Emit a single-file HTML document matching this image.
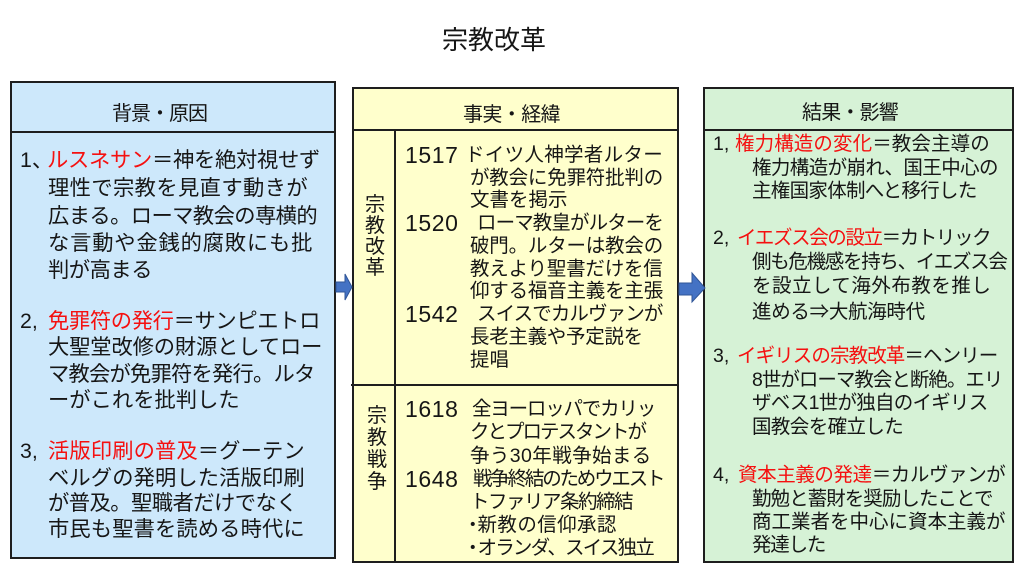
<!DOCTYPE html>
<html lang="ja">
<head>
<meta charset="utf-8">
<style>
  html,body{margin:0;padding:0;background:#fff;}
  #wrap{position:relative;width:1024px;height:571px;overflow:hidden;background:#fff;
    font-family:"Liberation Sans","Noto Sans CJK JP",sans-serif;color:#161616;}
  .t{position:absolute;white-space:nowrap;}
  .L{font-size:21.3px;line-height:26px;}
  .M{font-size:19.5px;line-height:23px;}
  .R{font-size:19.5px;line-height:23px;}
  .r{color:#f51010;}
  .y{font-size:23px;letter-spacing:0.6px;}
  .h{font-size:20px;line-height:26px;}
  .v{position:absolute;font-size:20px;text-align:center;width:22px;}
  .v span{display:block;}
</style>
</head>
<body>
<div id="wrap">
<svg width="1024" height="571" style="position:absolute;left:0;top:0">
  <rect x="11" y="82" width="324" height="476" fill="#cde8fb" stroke="#1e1e1e" stroke-width="2"/>
  <line x1="11" y1="132" x2="335" y2="132" stroke="#1e1e1e" stroke-width="2"/>
  <rect x="353" y="88" width="325" height="474" fill="#ffffcc" stroke="#1e1e1e" stroke-width="2"/>
  <line x1="353" y1="130" x2="678" y2="130" stroke="#1e1e1e" stroke-width="2"/>
  <line x1="395" y1="130" x2="395" y2="562" stroke="#1e1e1e" stroke-width="2"/>
  <line x1="351" y1="385" x2="678" y2="385" stroke="#1e1e1e" stroke-width="2"/>
  <rect x="704" y="88" width="309" height="474" fill="#d6f2d6" stroke="#1e1e1e" stroke-width="2"/>
  <line x1="704" y1="130" x2="1013" y2="130" stroke="#1e1e1e" stroke-width="2"/>
  <polygon points="336,282 345,282 345,274 352,287 345,300 345,292 336,292" fill="#4472c4" stroke="#2f5597" stroke-width="1"/>
  <polygon points="679,283 692,283 692,273 705,288 692,302 692,295 679,295" fill="#4472c4" stroke="#2f5597" stroke-width="1"/>
</svg>

<!-- title -->
<div class="t" style="left:442px;top:25px;font-size:26px;line-height:30px;">宗教改革</div>

<!-- headers -->
<div class="t h" style="left:112px;top:101px;letter-spacing:-1px;">背景・原因</div>
<div class="t h" style="left:463px;top:102px;letter-spacing:-0.6px;">事実・経緯</div>
<div class="t h" style="left:802px;top:100px;letter-spacing:-0.8px;">結果・影響</div>

<!-- LEFT -->
<div class="t L" style="left:20px;top:147px;">1、</div>
<div class="t L" style="left:47px;top:147px;letter-spacing:-0.3px;"><span class="r">ルスネサン</span>＝神を絶対視せず</div>
<div class="t L" style="left:48px;top:175px;letter-spacing:0.37px;">理性で宗教を見直す動きが</div>
<div class="t L" style="left:48px;top:203px;letter-spacing:-0.6px;">広まる。ローマ教会の専横的</div>
<div class="t L" style="left:48px;top:230px;letter-spacing:0.8px;">な言動や金銭的腐敗にも批</div>
<div class="t L" style="left:48px;top:257px;letter-spacing:-0.5px;">判が高まる</div>

<div class="t L" style="left:20px;top:308px;">2,</div>
<div class="t L" style="left:48px;top:308px;letter-spacing:-0.37px;"><span class="r">免罪符の発行</span>＝サンピエトロ</div>
<div class="t L" style="left:48px;top:334px;letter-spacing:-0.15px;">大聖堂改修の財源としてロー</div>
<div class="t L" style="left:48px;top:361px;letter-spacing:-0.8px;">マ教会が免罪符を発行。ルタ</div>
<div class="t L" style="left:48px;top:387px;">ーがこれを批判した</div>

<div class="t L" style="left:20px;top:438px;">3,</div>
<div class="t L" style="left:48px;top:438px;letter-spacing:0.1px;"><span class="r">活版印刷の普及</span>＝グーテン</div>
<div class="t L" style="left:48px;top:465px;letter-spacing:0.1px;">ベルグの発明した活版印刷</div>
<div class="t L" style="left:48px;top:490px;letter-spacing:-0.55px;">が普及。聖職者だけでなく</div>
<div class="t L" style="left:48px;top:516px;letter-spacing:0.1px;">市民も聖書を読める時代に</div>

<!-- MIDDLE vertical labels -->
<div class="v" style="left:364px;top:195px;line-height:21px;"><span>宗</span><span>教</span><span>改</span><span>革</span></div>
<div class="v" style="left:366px;top:405px;line-height:22px;"><span>宗</span><span>教</span><span>戦</span><span>争</span></div>

<!-- MIDDLE years -->
<div class="t M y" style="left:405px;top:143.5px;">1517</div>
<div class="t M y" style="left:405px;top:211.5px;">1520</div>
<div class="t M y" style="left:405px;top:302.5px;">1542</div>
<div class="t M y" style="left:405px;top:397.5px;">1618</div>
<div class="t M y" style="left:405px;top:467.5px;">1648</div>

<!-- MIDDLE text -->
<div class="t M" style="left:465px;top:143.5px;letter-spacing:0.3px;">ドイツ人神学者ルター</div>
<div class="t M" style="left:470px;top:166.5px;letter-spacing:-0.2px;">が教会に免罪符批判の</div>
<div class="t M" style="left:470px;top:189px;">文書を掲示</div>
<div class="t M" style="left:477px;top:211.5px;letter-spacing:-0.9px;">ローマ教皇がルターを</div>
<div class="t M" style="left:470px;top:234.5px;letter-spacing:-0.2px;">破門。ルターは教会の</div>
<div class="t M" style="left:470px;top:257.5px;letter-spacing:-0.2px;">教えより聖書だけを信</div>
<div class="t M" style="left:470px;top:280px;letter-spacing:-0.2px;">仰する福音主義を主張</div>
<div class="t M" style="left:477px;top:302.5px;letter-spacing:-0.9px;">スイスでカルヴァンが</div>
<div class="t M" style="left:470px;top:326px;letter-spacing:-0.3px;">長老主義や予定説を</div>
<div class="t M" style="left:470px;top:348.5px;">提唱</div>

<div class="t M" style="left:472px;top:397.5px;letter-spacing:-1.2px;">全ヨーロッパでカリッ</div>
<div class="t M" style="left:470px;top:420.5px;letter-spacing:-2px;">クとプロテスタントが</div>
<div class="t M" style="left:470px;top:444.5px;letter-spacing:0.4px;">争う30年戦争始まる</div>
<div class="t M" style="left:473px;top:467.5px;letter-spacing:-2.2px;">戦争終結のためウエスト</div>
<div class="t M" style="left:470px;top:490.5px;letter-spacing:-1.5px;">トファリア条約締結</div>
<div class="t M" style="left:463px;top:513.5px;"><span style="letter-spacing:-5px;">・</span><span style="letter-spacing:0.4px;">新教の信仰承認</span></div>
<div class="t M" style="left:463px;top:536.5px;"><span style="letter-spacing:-5px;">・</span><span style="letter-spacing:-1.8px;">オランダ、スイス独立</span></div>

<!-- RIGHT -->
<div class="t R" style="left:713px;top:132.5px;">1,</div>
<div class="t R" style="left:735px;top:132.5px;letter-spacing:0.1px;"><span class="r">権力構造の変化</span>＝教会主導の</div>
<div class="t R" style="left:752px;top:157px;letter-spacing:-0.6px;">権力構造が崩れ、国王中心の</div>
<div class="t R" style="left:752px;top:180px;letter-spacing:-0.7px;">主権国家体制へと移行した</div>

<div class="t R" style="left:713px;top:226.5px;">2,</div>
<div class="t R" style="left:737px;top:226.5px;letter-spacing:-1.4px;"><span class="r">イエズス会の設立</span>＝カトリック</div>
<div class="t R" style="left:752px;top:251px;letter-spacing:-1.3px;">側も危機感を持ち、イエズス会</div>
<div class="t R" style="left:752px;top:275px;letter-spacing:0.5px;">を設立して海外布教を推し</div>
<div class="t R" style="left:752px;top:298px;letter-spacing:-0.3px;">進める<span style="font-family:'Noto Sans CJK JP',sans-serif;">⇒</span>大航海時代</div>

<div class="t R" style="left:713px;top:345px;">3,</div>
<div class="t R" style="left:737px;top:345px;letter-spacing:-0.9px;"><span class="r">イギリスの宗教改革</span>＝ヘンリー</div>
<div class="t R" style="left:752px;top:368.5px;letter-spacing:-1px;">8世がローマ教会と断絶。エリ</div>
<div class="t R" style="left:752px;top:392px;letter-spacing:-0.75px;">ザベス1世が独自のイギリス</div>
<div class="t R" style="left:752px;top:415.5px;letter-spacing:-0.6px;">国教会を確立した</div>

<div class="t R" style="left:713px;top:464px;">4,</div>
<div class="t R" style="left:738px;top:464px;letter-spacing:-0.4px;"><span class="r">資本主義の発達</span>＝カルヴァンが</div>
<div class="t R" style="left:752px;top:488px;letter-spacing:-0.95px;">勤勉と蓄財を奨励したことで</div>
<div class="t R" style="left:752px;top:511px;">商工業者を中心に資本主義が</div>
<div class="t R" style="left:752px;top:533.5px;letter-spacing:-1.2px;">発達した</div>
</div>
</body>
</html>
